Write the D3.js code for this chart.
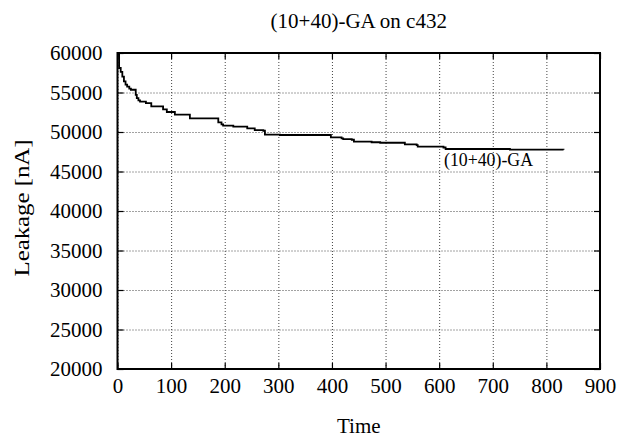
<!DOCTYPE html>
<html>
<head>
<meta charset="utf-8">
<script src="https://cdn.jsdelivr.net/npm/d3@7"></script>
<style>
  body { margin: 0; background: #fff; }
  text { font-family: "Liberation Serif", "Times New Roman", serif; }
</style>
</head>
<body>
<div class="canvas"></div>
<script>
// data (step curve, value holds until next time)
const times = [0, 3, 6, 9, 12, 15, 18, 22, 25, 34, 36, 39, 42, 53, 63, 85, 92, 107,
    135, 188, 194, 197, 216, 242, 256, 272, 275, 303, 398, 418, 421, 437, 441,
    474, 490, 536, 558, 560, 608, 612, 732, 832];
const leakage = [59800, 58100, 57600, 57000, 56400, 56000, 55750, 55500, 55350, 54700, 54300, 54000, 53850, 53650, 53250, 52870, 52530, 52200,
    51730, 51230, 50970, 50800, 50670, 50470, 50250, 50160, 49680, 49620, 49330, 49200, 49110, 49020, 48770,
    48700, 48640, 48440, 48350, 48140, 48040, 47850, 47780, 47760];
const xTicks = [0, 100, 200, 300, 400, 500, 600, 700, 800, 900];
const yTicks = [20000, 25000, 30000, 35000, 40000, 45000, 50000, 55000, 60000];
const seriesName = '(10+40)-GA';

const width = 628;
const height = 439;
const serif = '"Liberation Serif", "Times New Roman", serif';

const svg = d3.select('.canvas')
    .append('svg')
    .attr('width', width)
    .attr('height', height);

// margins and dimensions
const margin = { top: 53, right: 28, bottom: 70, left: 117.5 };
const graphWidth = width - margin.left - margin.right;
const graphHeight = height - margin.top - margin.bottom;

const graph = svg.append('g')
    .attr('transform', `translate(${margin.left}, ${margin.top})`);

const x = d3.scaleLinear()
    .domain([0, 900])
    .range([0, graphWidth]);

const y = d3.scaleLinear()
    .domain([20000, 60000])
    .range([graphHeight, 0]);

// dotted grid
const xGrid = graph.append('g')
    .attr('transform', `translate(0, ${graphHeight})`)
    .call(d3.axisBottom(x).tickValues(xTicks).tickSize(-graphHeight).tickFormat(''));
const yGrid = graph.append('g')
    .call(d3.axisLeft(y).tickValues(yTicks).tickSize(-graphWidth).tickFormat(''));

[xGrid, yGrid].forEach(g => {
    g.select('.domain').remove();
    g.selectAll('line')
        .attr('stroke', '#444')
        .attr('stroke-width', 1)
        .attr('stroke-dasharray', '1,2');
});

// axes with inward ticks (mirrored top and right)
const xAxisGroup = graph.append('g')
    .attr('transform', `translate(0, ${graphHeight})`)
    .call(d3.axisBottom(x).tickValues(xTicks).tickSizeInner(-6).tickSizeOuter(0).tickPadding(9));
const yAxisGroup = graph.append('g')
    .call(d3.axisLeft(y).tickValues(yTicks).tickFormat(d3.format('d'))
        .tickSizeInner(-6).tickSizeOuter(0).tickPadding(15));
const topAxisGroup = graph.append('g')
    .call(d3.axisTop(x).tickValues(xTicks).tickSizeInner(-6).tickSizeOuter(0).tickFormat(''));
const rightAxisGroup = graph.append('g')
    .attr('transform', `translate(${graphWidth}, 0)`)
    .call(d3.axisRight(y).tickValues(yTicks).tickSizeInner(-6).tickSizeOuter(0).tickFormat(''));

[xAxisGroup, yAxisGroup, topAxisGroup, rightAxisGroup].forEach(g => {
    g.attr('font-family', serif);
    g.select('.domain').remove();
    g.selectAll('line').attr('stroke', '#000').attr('stroke-width', 1.2);
    g.selectAll('text')
        .attr('font-family', serif)
        .attr('font-size', 21)
        .attr('fill', '#000');
});

// frame
graph.append('rect')
    .attr('x', 0)
    .attr('y', 0)
    .attr('width', graphWidth)
    .attr('height', graphHeight)
    .attr('fill', 'none')
    .attr('stroke', '#000')
    .attr('stroke-width', 2);

// the curve
const data = times.map((t, i) => ({ t: t, v: leakage[i] }));
const line = d3.line()
    .x(d => x(d.t))
    .y(d => y(d.v))
    .curve(d3.curveStepAfter);

graph.append('path')
    .datum(data)
    .attr('d', line)
    .attr('fill', 'none')
    .attr('stroke', '#000')
    .attr('stroke-width', 1.8);

graph.append('text')
    .attr('x', x(609))
    .attr('y', 113)
    .attr('font-size', 18)
    .attr('textLength', 89)
    .attr('lengthAdjust', 'spacingAndGlyphs')
    .text(seriesName);

// titles
svg.append('text')
    .attr('x', margin.left + graphWidth / 2)
    .attr('y', 28)
    .attr('text-anchor', 'middle')
    .attr('font-size', 21)
    .text('(10+40)-GA on c432');

svg.append('text')
    .attr('x', margin.left + graphWidth / 2)
    .attr('y', 433)
    .attr('text-anchor', 'middle')
    .attr('font-size', 21)
    .text('Time');

svg.append('text')
    .attr('transform', `translate(29, ${margin.top + graphHeight / 2 - 3}) rotate(-90)`)
    .attr('text-anchor', 'middle')
    .attr('font-size', 22)
    .attr('textLength', 137)
    .attr('lengthAdjust', 'spacingAndGlyphs')
    .text('Leakage [nA]');
</script>
</body>
</html>
